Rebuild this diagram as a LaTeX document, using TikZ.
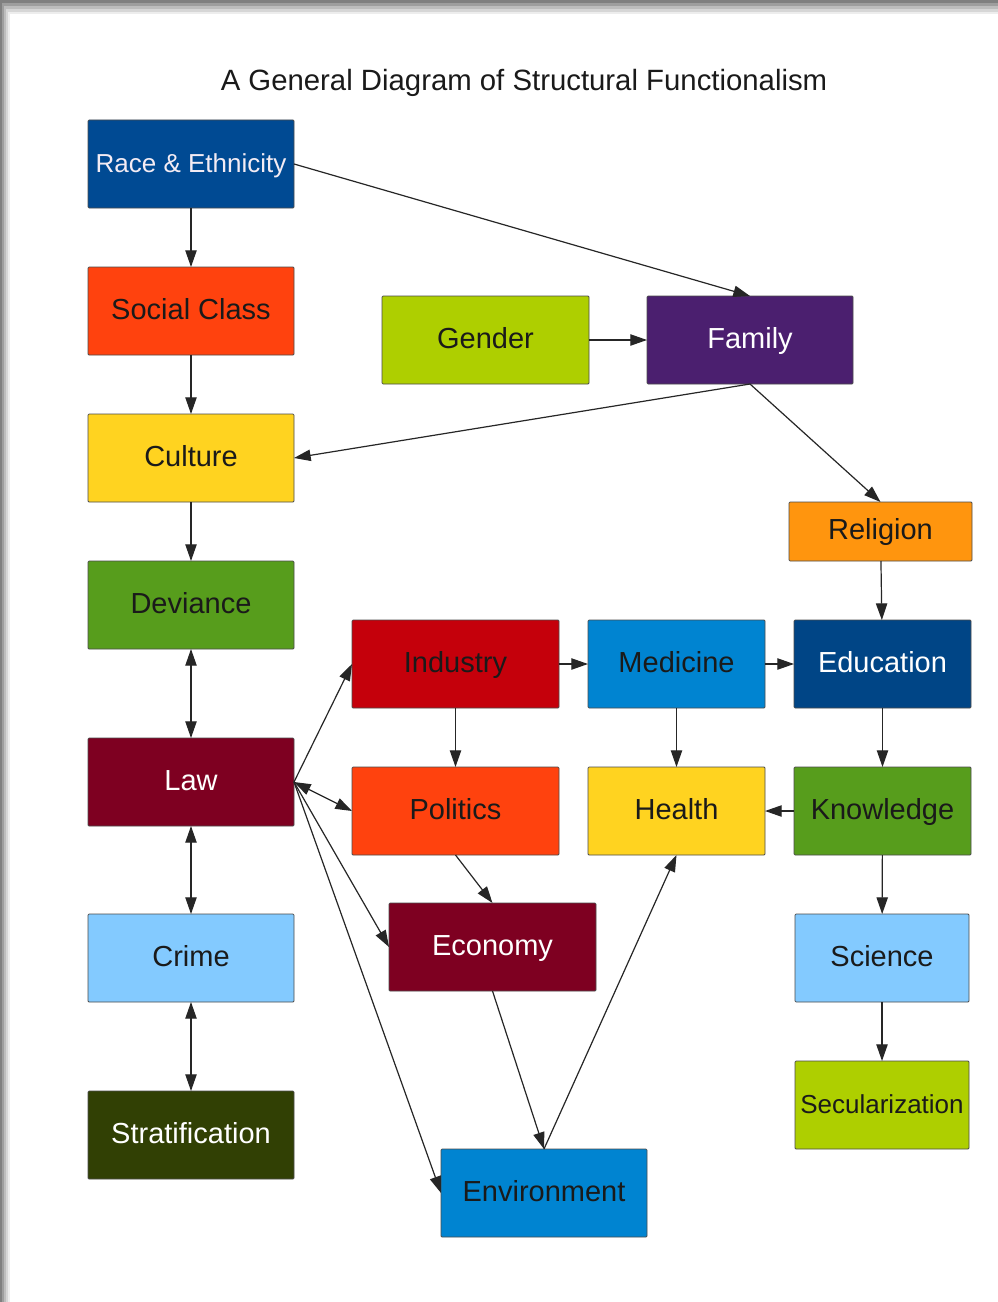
\documentclass[tikz,border=0pt]{standalone}
\usepackage{fontspec}
\setmainfont{Liberation Sans}
\usetikzlibrary{arrows.meta}
\definecolor{cRace}{HTML}{004A93}
\definecolor{cSocial}{HTML}{FF420E}
\definecolor{cCulture}{HTML}{FFD320}
\definecolor{cDev}{HTML}{579D1C}
\definecolor{cLaw}{HTML}{7E0021}
\definecolor{cCrime}{HTML}{83CAFF}
\definecolor{cStrat}{HTML}{314004}
\definecolor{cGender}{HTML}{AECF00}
\definecolor{cFamily}{HTML}{4B1F6F}
\definecolor{cRel}{HTML}{FF950E}
\definecolor{cInd}{HTML}{C5000B}
\definecolor{cMed}{HTML}{0084D1}
\definecolor{cEdu}{HTML}{004586}
\definecolor{cDark}{HTML}{1A1A1A}
\definecolor{cLight}{HTML}{F4ECF4}
\tikzset{
  boxn/.style n args={2}{draw=black!70, line width=0.6pt, rounded corners=0.8pt,
    inner sep=0pt, outer sep=0pt, minimum width=#1*0.75pt, minimum height=#2*0.75pt,
    text height=1.2em, text depth=0em,
    font=\fontsize{21.75}{24}\selectfont},
  small/.style={font=\fontsize{19.5}{22}\selectfont},
  tip/.tip={Triangle[length=12.5pt,width=8.5pt]},
  con/.style={draw=black!85, line width=0.9pt, -tip},
  dcon/.style={draw=black!85, line width=0.9pt, tip-tip}
}
\begin{document}
\begin{tikzpicture}[x=0.75pt,y=-0.75pt]
\useasboundingbox (0,0) rectangle (998,1302);
% page frame with shadow
\fill[black!50] (0,0) rectangle (998,1302);
\fill[black!38] (2,3) rectangle (998,1302);
\fill[black!26] (4,6) rectangle (998,1302);
\fill[black!16] (6,9) rectangle (998,1302);
\fill[black!7] (8,12) rectangle (998,1302);
\fill[white] (10,14) rectangle (998,1302);

\node[font=\fontsize{22}{24}\selectfont, text=cDark] (title) at (524,83) {A General Diagram of Structural Functionalism};

% left column
\node[boxn={206}{88}, fill=cRace, text=cLight, small] (race) at (191,164) {Race \& Ethnicity};
\node[boxn={206}{88}, fill=cSocial, text=cDark] (social) at (191,311) {Social Class};
\node[boxn={206}{88}, fill=cCulture, text=cDark] (culture) at (191,458) {Culture};
\node[boxn={206}{88}, fill=cDev, text=cDark] (deviance) at (191,605) {Deviance};
\node[boxn={206}{88}, fill=cLaw, text=white] (law) at (191,782) {Law};
\node[boxn={206}{88}, fill=cCrime, text=cDark] (crime) at (191,958) {Crime};
\node[boxn={206}{88}, fill=cStrat, text=white] (strat) at (191,1135) {Stratification};

% top middle
\node[boxn={207}{88}, fill=cGender, text=cDark] (gender) at (485.5,340) {Gender};
\node[boxn={206}{88}, fill=cFamily, text=white] (family) at (750,340) {Family};
\node[boxn={183}{59}, fill=cRel, text=cDark] (religion) at (880.5,531.5) {Religion};

% middle grid
\node[boxn={207}{88}, fill=cInd, text=cDark] (industry) at (455.5,664) {Industry};
\node[boxn={177}{88}, fill=cMed, text=cDark] (medicine) at (676.5,664) {Medicine};
\node[boxn={177}{88}, fill=cEdu, text=white] (education) at (882.5,664) {Education};
\node[boxn={207}{88}, fill=cSocial, text=cDark] (politics) at (455.5,811) {Politics};
\node[boxn={177}{88}, fill=cCulture, text=cDark] (health) at (676.5,811) {Health};
\node[boxn={177}{88}, fill=cDev, text=cDark] (knowledge) at (882.5,811) {Knowledge};
\node[boxn={207}{88}, fill=cLaw, text=white] (economy) at (492.5,947) {Economy};
\node[boxn={174}{88}, fill=cCrime, text=cDark] (science) at (882,958) {Science};
\node[boxn={174}{88}, fill=cGender, text=cDark, small] (secular) at (882,1105) {Secularization};
\node[boxn={206}{88}, fill=cMed, text=cDark] (environment) at (544,1193) {Environment};

% connectors
\draw[con] (race) -- (social);
\draw[con] (race.east) -- (family.north);
\draw[con] (social) -- (culture);
\draw[con] (gender) -- (family);
\draw[con] (family.south) -- (culture.east);
\draw[con] (family.south) -- (religion.north);
\draw[con] (culture) -- (deviance);
\draw[dcon] (deviance) -- (law);
\draw[dcon] (law) -- (crime);
\draw[dcon] (crime) -- (strat);
\draw[con] (law.east) -- (industry.west);
\draw[dcon] (law.east) -- (politics.west);
\draw[con] (law.east) -- (economy.west);
\draw[con] (law.east) -- (environment.west);
\draw[con] (industry) -- (medicine);
\draw[con] (medicine) -- (education);
\draw[con] (religion) -- (education);
\draw[con] (industry) -- (politics);
\draw[con] (medicine) -- (health);
\draw[con] (education) -- (knowledge);
\draw[con] (knowledge) -- (health);
\draw[con] (knowledge) -- (science);
\draw[con] (science) -- (secular);
\draw[con] (politics.south) -- (economy.north);
\draw[con] (economy.south) -- (environment.north);
\draw[con] (environment.north) -- (health.south);
\end{tikzpicture}
\end{document}
